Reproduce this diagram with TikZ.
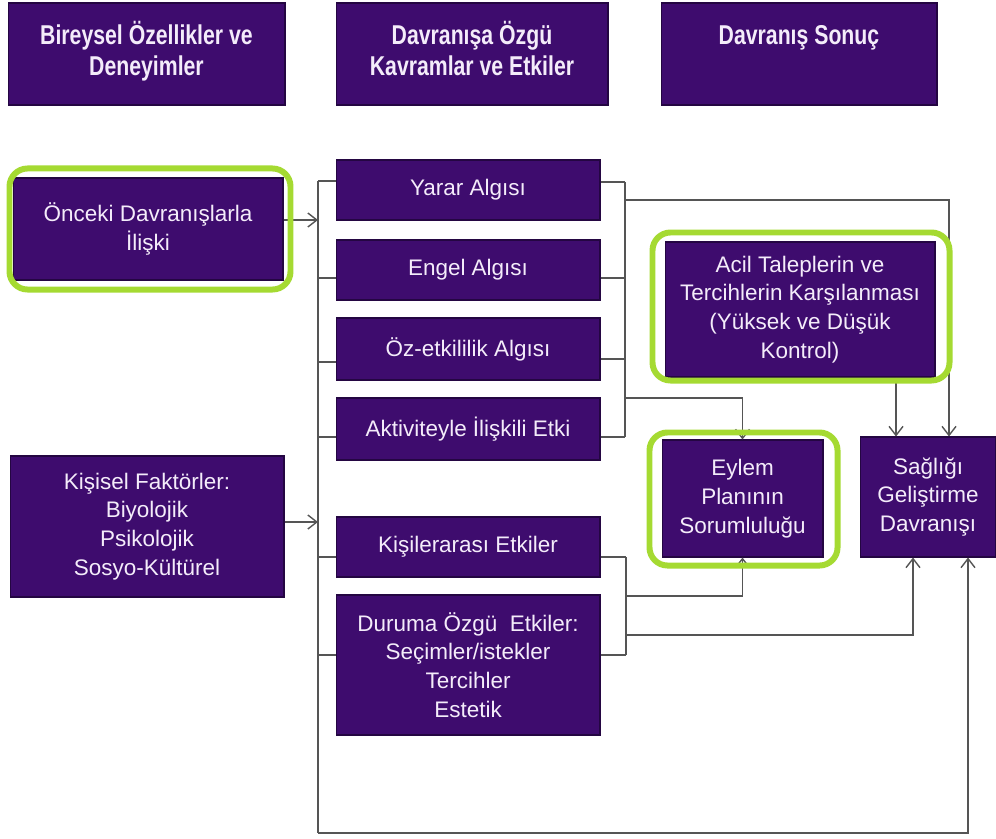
\documentclass[tikz,border=0pt]{standalone}
\usepackage{fontspec}
\setmainfont{Liberation Sans}
\newfontfamily\hdfont[FakeStretch=0.78]{Liberation Sans}
\usepackage{tikz}
\usetikzlibrary{arrows.meta,calc}
\usepackage{xcolor}
\definecolor{mor}{RGB}{62,12,110}
\definecolor{mordark}{RGB}{36,6,66}
\definecolor{yesil}{RGB}{165,218,50}
\definecolor{cizgi}{RGB}{85,85,85}
\definecolor{yazi}{RGB}{244,236,250}
\newcommand{\hdtext}[1]{\parbox[c][1.9cm][t]{5.3cm}{\centering\hdfont\bfseries\fontsize{15.5}{17.6}\selectfont\rule{0pt}{21.5pt}#1}}
\tikzset{
  box/.style={draw=mordark, line width=0.6pt, fill=mor, text=yazi, align=center, inner sep=2pt,
    font=\fontsize{12.8}{16.4}\selectfont},
  hdbox/.style={box, inner sep=0pt},
  ln/.style={draw=cizgi, line width=0.8pt},
  arr/.style={ln, -{Straight Barb[length=1.8mm,width=2.8mm]}},
  glow/.style={draw=yesil, line width=3.4pt, rounded corners=0.36cm}
}

\begin{document}
\begin{tikzpicture}[x=0.02cm,y=-0.02cm]
\useasboundingbox (0,0) rectangle (996,838);

% basliklar
\node[hdbox, minimum width=5.54cm, minimum height=2.04cm] (hd1) at (146.5,54) {\hdtext{Bireysel Özellikler ve\\Deneyimler}};
\node[hdbox, minimum width=5.44cm, minimum height=2.04cm] (hd2) at (472,54) {\hdtext{Davranışa Özgü\\Kavramlar ve Etkiler}};
\node[hdbox, minimum width=5.52cm, minimum height=2.04cm] (hd3) at (799,54) {\hdtext{Davranış Sonuç}};

% sol sutun
\node[box, minimum width=5.40cm, minimum height=2.04cm] (prev) at (148,229) {Önceki Davranışlarla\\İlişki};
\node[box, minimum width=5.48cm, minimum height=2.82cm] (kis) at (147,526.5) {Kişisel Faktörler:\\Biyolojik\\Psikolojik\\Sosyo-Kültürel};

% orta sutun
\node[box, minimum width=5.28cm, minimum height=1.20cm] (yarar) at (468,190) {Yarar Algısı};
\node[box, minimum width=5.28cm, minimum height=1.20cm] (engel) at (468,270) {Engel Algısı};
\node[box, minimum width=5.28cm, minimum height=1.24cm] (oz) at (468,349) {Öz-etkililik Algısı};
\node[box, minimum width=5.28cm, minimum height=1.24cm] (akt) at (468,429) {Aktiviteyle İlişkili Etki};
\node[box, minimum width=5.28cm, minimum height=1.20cm] (kisiler) at (468,547) {Kişilerarası Etkiler};
\node[box, minimum width=5.28cm, minimum height=2.80cm] (durum) at (468,665) {Duruma Özgü\ \ Etkiler:\\Seçimler/istekler\\Tercihler\\Estetik};

% sag taraf
\node[box, minimum width=5.40cm, minimum height=2.70cm] (acil) at (800,309.5) {Acil Taleplerin ve\\Tercihlerin Karşılanması\\(Yüksek ve Düşük\\Kontrol)};
\node[box, minimum width=3.22cm, minimum height=2.34cm] (eylem) at (742.5,498.5) {Eylem\\Planının\\Sorumluluğu};
\node[box, minimum width=2.72cm, minimum height=2.40cm] (saglik) at (928,497) {Sağlığı\\Geliştirme\\Davranışı};

% sol dikey hat
\coordinate (solust) at (318,181);
\coordinate (solalt) at (318,833);
\draw[ln] (solust) -- (solalt);
\foreach \n/\y in {yarar/181,engel/278,oz/362,akt/437,kisiler/557,durum/655}{
  \coordinate (t) at (318,\y);
  \draw[ln] (t) -- (t -| \n.west);
}
\coordinate (girisA) at (318,220);
\coordinate (girisB) at (318,522);
\draw[arr] (prev.east |- girisA) -- (girisA);
\draw[arr] (kis.east |- girisB) -- (girisB);

% sag ust hat
\coordinate (sagust) at (625,182);
\coordinate (sagalt) at (625,437);
\draw[ln] (sagust) -- (sagalt);
\foreach \n/\y in {yarar/182,engel/278,oz/359,akt/437}{
  \coordinate (t) at (625,\y);
  \draw[ln] (\n.east |- t) -- (t);
}
\coordinate (k1) at (625,200);
\coordinate (k1s) at (949,200);
\draw[arr] (k1) -- (k1s) -- (k1s |- saglik.north);
\coordinate (k2) at (625,398);
\draw[arr] (k2) -| (eylem.north);
\coordinate (k3) at (896,0);
\draw[arr] (acil.south -| k3) -- (saglik.north -| k3);

% sag alt hat
\coordinate (aust) at (626,557);
\coordinate (aalt) at (626,655);
\draw[ln] (aust) -- (aalt);
\foreach \n/\y in {kisiler/557,durum/655}{
  \coordinate (t) at (626,\y);
  \draw[ln] (\n.east |- t) -- (t);
}
\coordinate (k4) at (626,596);
\draw[arr] (k4) -| (eylem.south);
\coordinate (k5) at (626,635);
\coordinate (k5s) at (913,635);
\draw[arr] (k5) -- (k5s) -- (k5s |- saglik.south);
\coordinate (k6s) at (968,833);
\draw[arr] (solalt) -- (k6s) -- (k6s |- saglik.south);

% yesil cerceveler
\draw[glow] ($(prev.north west)+(-3,-9)$) rectangle ($(prev.south east)+(7,9)$);
\draw[glow] ($(acil.north west)+(-12,-9)$) rectangle ($(acil.south east)+(14,3)$);
\draw[glow] ($(eylem.north west)+(-12,-7)$) rectangle ($(eylem.south east)+(14,8)$);
\end{tikzpicture}
\end{document}
